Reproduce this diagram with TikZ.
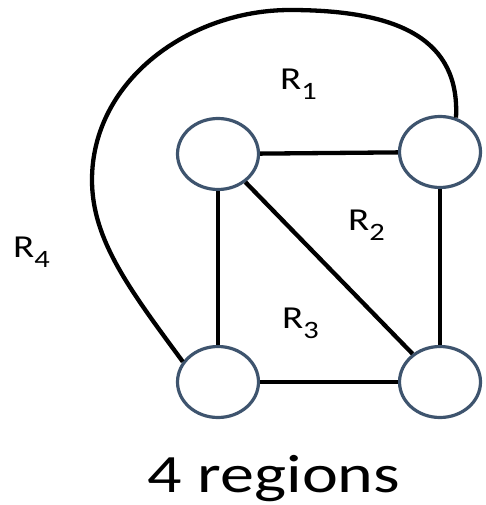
\documentclass[tikz,border=0pt]{standalone}
\usepackage{fontspec}
\setmainfont{Carlito}
\usetikzlibrary{shapes.geometric}
\definecolor{vertexblue}{RGB}{62,84,110}
\newcommand{\regionlabel}[1]{\scalebox{1.22}[1]{\fontsize{32}{32}\selectfont R\raisebox{-10pt}{\fontsize{25}{25}\selectfont #1}}}

\begin{document}
\begin{tikzpicture}[
    x=1pt, y=-1pt,
    vertex/.style={draw=vertexblue, line width=3.2pt, ellipse, fill=white,
        minimum width=81pt, minimum height=71pt, inner sep=0pt},
    edge/.style={draw=black, line width=4.3pt},
    region/.style={inner sep=0pt, anchor=base west}
]
\useasboundingbox (0,0) rectangle (485,505);
% vertices
\node[vertex] (tl) at (218,154) {};
\node[vertex] (tr) at (440,152) {};
\node[vertex] (bl) at (218,382) {};
\node[vertex] (br) at (440,382) {};
% edges
\draw[edge] (tl) -- (tr);
\draw[edge] (bl) -- (br);
\draw[edge] (tl) -- (bl);
\draw[edge] (tr) -- (br);
\draw[edge] (tl) -- (br);
\draw[edge] (bl.150) .. controls (130,290) and (92,240) .. (92,180)
    .. controls (92,80) and (190,10) .. (290,10)
    .. controls (400,10) and (460,40) .. (tr.65);
% regions
\node[region] (r1) at (280,90) {\regionlabel{1}};
\node[region] (r2) at (348,230) {\regionlabel{2}};
\node[region] (r3) at (282,328) {\regionlabel{3}};
\node[region] (r4) at (13,257) {\regionlabel{4}};
\node[anchor=base, inner sep=0pt] (caption) at (274,492)
    {\scalebox{1.26}[1]{\fontsize{54}{54}\selectfont 4 regions}};
\end{tikzpicture}
\end{document}
